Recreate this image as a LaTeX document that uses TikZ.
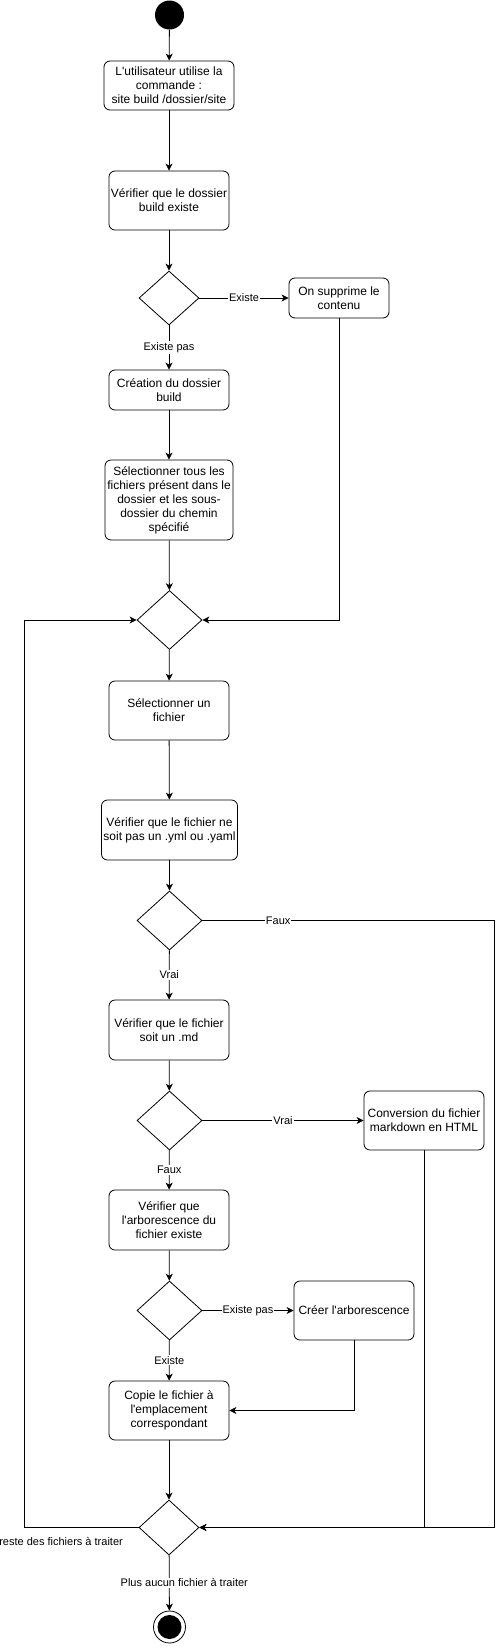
\documentclass[tikz,border=0pt]{standalone}
\usepackage{fontspec}
\newfontfamily\hv{Liberation Sans}
\usetikzlibrary{shapes.geometric,arrows.meta}
\begin{document}
\begin{tikzpicture}[x=1pt,y=-1pt,
  box/.style={draw, rounded corners=6pt, align=center, inner sep=2pt, line width=0.8pt,
    font=\hv\fontsize{12}{14}\selectfont},
  dec/.style={draw, diamond, inner sep=0pt, line width=0.8pt, minimum width=65pt, minimum height=59pt},
  lbl/.style={fill=white, inner sep=1pt, font=\hv\fontsize{11}{13}\selectfont},
  arr/.style={-{Stealth[length=7pt,width=7pt,inset=2pt]}, line width=0.8pt}]
\useasboundingbox (0,0) rectangle (503,1649);
% nodes
\node[circle, fill=black, minimum size=29pt, inner sep=0pt] (start) at (169.5,15) {};
\node[box, minimum width=130pt, minimum height=49pt] (b1) at (169,85.5) {L'utilisateur utilise la\\commande :\\site build /dossier/site};
\node[box, minimum width=120pt, minimum height=59pt] (b2) at (169,200.5) {Vérifier que le dossier\\build existe};
\node[dec, minimum width=60pt, minimum height=54pt] (d1) at (169,298) {};
\node[box, minimum width=100pt, minimum height=40pt] (b3) at (339,298) {On supprime le\\contenu};
\node[box, minimum width=120pt, minimum height=40pt] (b4) at (169,390) {Création du dossier\\build};
\node[box, minimum width=128pt, minimum height=80pt] (b5) at (169,500) {Sélectionner tous les\\fichiers présent dans le\\dossier et les sous-\\dossier du chemin\\spécifié};
\node[dec] (d2) at (169.5,620) {};
\node[box, minimum width=120pt, minimum height=59pt] (b6) at (169,710.5) {Sélectionner un\\fichier};
\node[box, minimum width=135pt, minimum height=60pt] (b7) at (169.5,830) {Vérifier que le fichier ne\\soit pas un .yml ou .yaml};
\node[dec] (d3) at (169.5,920.5) {};
\node[box, minimum width=120pt, minimum height=60pt] (b8) at (169,1030) {Vérifier que le fichier\\soit un .md};
\node[dec] (d4) at (169.5,1120.5) {};
\node[box, minimum width=120pt, minimum height=59pt] (b9) at (424,1120.5) {Conversion du fichier\\markdown en HTML};
\node[box, minimum width=120pt, minimum height=60pt] (b10) at (169,1220) {Vérifier que\\l'arborescence du\\fichier existe};
\node[dec] (d5) at (169.5,1310.5) {};
\node[box, minimum width=120pt, minimum height=59pt] (b11) at (354,1310.5) {Créer l'arborescence};
\node[box, minimum width=120pt, minimum height=59pt] (b12) at (169,1410.5) {Copie le fichier à\\l'emplacement\\correspondant};
\node[dec, minimum width=60pt, minimum height=55pt] (d6) at (169,1527.5) {};
\node[circle, draw, line width=0.8pt, minimum size=32pt, inner sep=0pt] (endo) at (169.5,1627) {};
\node[circle, fill=black, minimum size=24pt, inner sep=0pt] (endi) at (endo) {};
\coordinate (rf) at (494,920.5);
\coordinate (lf) at (24,1527.5);
\coordinate (lt) at (24,620);
\node[anchor=east, inner sep=0pt, font=\hv\fontsize{11}{13}\selectfont] (lres) at (123,1541) {reste des fichiers à traiter};
% edges
\draw[arr] (start) -- (b1);
\draw[arr] (b1) -- (b2);
\draw[arr] (b2) -- (d1);
\draw[arr] (d1) -- node[lbl]{Existe} (b3);
\draw[arr] (d1) -- node[lbl]{Existe pas} (b4);
\draw[arr] (b4) -- (b5);
\draw[arr] (b5) -- (d2);
\draw[arr] (b3.south) |- (d2.east);
\draw[arr] (d2) -- (b6);
\draw[arr] (b6) -- (b7);
\draw[arr] (b7) -- (d3);
\draw[arr] (d3) -- node[lbl]{Vrai} (b8);
\draw[arr] (d3.east) -- node[lbl,pos=0.26]{Faux} (rf) |- (d6.east);
\draw[arr] (b8) -- (d4);
\draw[arr] (d4) -- node[lbl]{Vrai} (b9);
\draw[arr] (b9.south) |- (d6.east);
\draw[arr] (d4) -- node[lbl]{Faux} (b10);
\draw[arr] (b10) -- (d5);
\draw[arr] (d5) -- node[lbl]{Existe pas} (b11);
\draw[arr] (d5) -- node[lbl]{Existe} (b12);
\draw[arr] (b11.south) |- (b12.east);
\draw[arr] (b12) -- (d6);
\draw[arr] (d6.west) -- (lf) -- (lt) -- (d2.west);
\draw[arr] (d6) -- node[lbl, xshift=15pt]{Plus aucun fichier à traiter} (endo);
\end{tikzpicture}
\end{document}
